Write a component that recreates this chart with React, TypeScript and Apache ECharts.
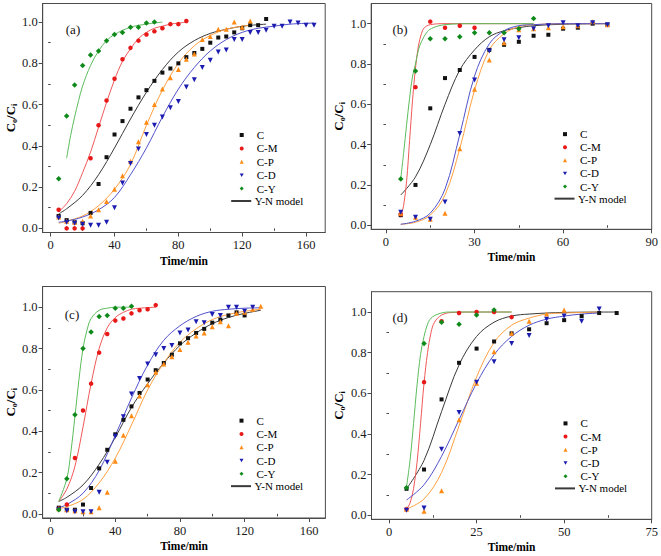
import React, { useEffect, useRef } from "react";
import * as echarts from "echarts";

const FONT = "'Liberation Serif', 'Times New Roman', serif";
const SERIES_NAMES = ["C", "C-M", "C-P", "C-D", "C-Y"];
const MODEL_NAME = "Y-N model";
const PANEL_LABELS = ["(a)", "(b)", "(c)", "(d)"];

// ---------- Panel (a) ----------
const timesA = [5, 10, 15, 20, 25, 30, 35, 40, 45, 50, 55, 60, 65, 70, 75, 80, 85, 90, 95, 100, 105, 110, 115, 120, 125, 130, 135, 140, 145, 150, 155, 160, 165];
const aC = [0.06, 0.04, 0.03, 0.025, 0.075, 0.215, 0.345, 0.455, 0.52, 0.58, 0.635, 0.67, 0.715, 0.755, 0.775, 0.8, 0.83, 0.85, 0.87, 0.9, 0.925, 0.93, 0.95, 0.97, 0.985, 0.985, 1.015];
const aCM = [0.09, 0.0, 0.0, 0.0, 0.34, 0.5, 0.62, 0.725, 0.82, 0.875, 0.91, 0.94, 0.955, 0.97, 0.99, 0.99, 1.005];
const aCP = [0.055, 0.035, 0.03, 0.035, 0.06, 0.09, 0.13, 0.19, 0.255, 0.325, 0.42, 0.515, 0.6, 0.675, 0.73, 0.77, 0.82, 0.845, 0.915, 0.93, 0.965, 0.965, 1.0, 0.975, 1.005];
const aCD = [0.05, 0.03, 0.025, 0.02, 0.015, 0.015, 0.03, 0.1, 0.22, 0.315, 0.385, 0.455, 0.5, 0.54, 0.585, 0.615, 0.685, 0.72, 0.78, 0.815, 0.855, 0.865, 0.915, 0.915, 0.95, 0.95, 0.96, 0.98, 0.98, 1.0, 0.995, 0.985, 0.985];
const aCY = [0.24, 0.545, 0.695, 0.79, 0.84, 0.86, 0.91, 0.94, 0.95, 0.975, 0.975, 0.995, 1.0];
const mA_C_t = [5, 10, 20, 30, 40, 50, 60, 70, 80, 90, 100, 110, 120, 135];
const mA_C_v = [0.07, 0.095, 0.16, 0.26, 0.39, 0.53, 0.66, 0.77, 0.855, 0.91, 0.945, 0.965, 0.98, 0.99];
const mA_CM_t = [5, 10, 15, 20, 25, 30, 35, 40, 45, 50, 55, 60, 65, 70, 75, 80, 85];
const mA_CM_v = [0.08, 0.12, 0.18, 0.27, 0.37, 0.49, 0.61, 0.72, 0.81, 0.87, 0.92, 0.95, 0.97, 0.98, 0.99, 0.995, 1.0];
const mA_CP_t = [5, 10, 20, 30, 40, 50, 60, 70, 80, 90, 100, 110, 120, 125];
const mA_CP_v = [0.025, 0.035, 0.06, 0.11, 0.19, 0.31, 0.5, 0.67, 0.8, 0.885, 0.935, 0.965, 0.98, 0.985];
const mA_CD_t = [5, 10, 20, 30, 40, 50, 60, 70, 80, 90, 100, 110, 120, 130, 140, 150, 165];
const mA_CD_v = [0.03, 0.035, 0.055, 0.09, 0.15, 0.26, 0.39, 0.54, 0.675, 0.78, 0.86, 0.915, 0.95, 0.97, 0.98, 0.99, 0.995];
const mA_CY_t = [10, 12.5, 15, 17.5, 20, 25, 30, 35, 40, 50, 60, 70];
const mA_CY_v = [0.34, 0.45, 0.54, 0.62, 0.69, 0.79, 0.86, 0.91, 0.94, 0.975, 0.99, 1.0];

// ---------- Panel (b) ----------
const timesB = [5, 10, 15, 20, 25, 30, 35, 40, 45, 50, 55, 60, 65, 70, 75];
const bC = [0.05, 0.2, 0.58, 0.73, 0.77, 0.835, 0.87, 0.895, 0.91, 0.94, 0.945, 0.975, 0.98, 1.0, 0.995];
const bCM = [0.055, 0.685, 1.01, 0.98, 0.99, 0.98];
const bCP = [0.06, 0.04, 0.03, 0.06, 0.38, 0.675, 0.82, 0.905, 0.97, 0.975, 0.98, 0.985, 0.99, 1.01, 0.995];
const bCD = [0.065, 0.04, 0.03, 0.115, 0.455, 0.72, 0.865, 0.92, 0.93, 0.975, 0.99, 1.005, 0.99, 1.005, 0.995];
const bCY = [0.23, 0.765, 0.925, 0.925, 0.935, 0.955, 0.955, 0.955, 0.975, 1.025];
const mB_C_t = [5, 10, 15, 20, 25, 30, 35, 40, 45, 50, 60, 75];
const mB_C_v = [0.15, 0.24, 0.4, 0.6, 0.77, 0.87, 0.935, 0.965, 0.98, 0.99, 0.997, 1.0];
const mB_CM_t = [5, 6, 7, 8, 9, 10, 11, 12, 13, 15, 20, 30, 50];
const mB_CM_v = [0.04, 0.1, 0.22, 0.42, 0.62, 0.78, 0.89, 0.95, 0.98, 0.995, 1.0, 1.0, 1.0];
const mB_CP_t = [5, 10, 15, 20, 25, 30, 35, 40, 45, 50, 60, 75];
const mB_CP_v = [0.005, 0.015, 0.05, 0.15, 0.38, 0.67, 0.87, 0.95, 0.985, 0.995, 1.0, 1.0];
const mB_CD_t = [5, 10, 15, 20, 25, 30, 35, 40, 45, 50, 60, 75];
const mB_CD_v = [0.005, 0.02, 0.06, 0.18, 0.45, 0.74, 0.9, 0.965, 0.99, 0.995, 1.0, 1.0];
const mB_CY_t = [5, 6, 7, 8, 9, 10, 11, 12, 14, 16, 20, 30, 50];
const mB_CY_v = [0.23, 0.36, 0.5, 0.63, 0.74, 0.8, 0.87, 0.91, 0.96, 0.98, 0.995, 1.0, 1.0];

// ---------- Panel (c) ----------
const timesC = [5, 10, 15, 20, 25, 30, 35, 40, 45, 50, 55, 60, 65, 70, 75, 80, 85, 90, 95, 100, 105, 110, 115, 120, 125, 130];
const cC = [0.03, 0.02, 0.02, 0.045, 0.125, 0.22, 0.31, 0.385, 0.455, 0.52, 0.585, 0.65, 0.695, 0.73, 0.77, 0.825, 0.85, 0.875, 0.895, 0.925, 0.94, 0.96, 0.975, 0.96];
const cCM = [0.025, 0.045, 0.27, 0.5, 0.63, 0.78, 0.87, 0.935, 0.945, 0.97, 0.985, 0.99, 1.01];
const cCP = [0.025, 0.02, 0.015, 0.01, 0.01, 0.03, 0.105, 0.255, 0.38, 0.475, 0.57, 0.625, 0.685, 0.725, 0.76, 0.795, 0.83, 0.86, 0.875, 0.905, 0.93, 0.91, 0.97, 0.975, 0.99, 1.005];
const cCD = [0.02, 0.015, 0.01, 0.01, 0.01, 0.105, 0.25, 0.375, 0.47, 0.58, 0.655, 0.725, 0.77, 0.8, 0.815, 0.875, 0.89, 0.93, 0.925, 0.965, 0.96, 1.0, 1.0, 0.98, 1.0];
const cCY = [0.02, 0.17, 0.48, 0.8, 0.88, 0.955, 0.96, 0.995, 0.995, 1.005];
const mC_C_t = [5, 10, 20, 30, 40, 50, 60, 70, 80, 90, 100, 110, 120, 130];
const mC_C_v = [0.06, 0.08, 0.14, 0.24, 0.37, 0.515, 0.63, 0.73, 0.815, 0.875, 0.92, 0.95, 0.97, 0.985];
const mC_CM_t = [5, 10, 15, 20, 25, 30, 35, 40, 45, 50, 55, 65];
const mC_CM_v = [0.06, 0.12, 0.23, 0.42, 0.63, 0.8, 0.9, 0.95, 0.975, 0.99, 0.995, 1.0];
const mC_CP_t = [5, 10, 20, 30, 40, 50, 60, 70, 80, 90, 100, 110, 120, 130];
const mC_CP_v = [0.025, 0.035, 0.07, 0.15, 0.27, 0.43, 0.6, 0.73, 0.83, 0.895, 0.94, 0.965, 0.98, 0.99];
const mC_CD_t = [5, 10, 20, 30, 40, 50, 60, 70, 80, 90, 100, 110, 120, 130];
const mC_CD_v = [0.03, 0.045, 0.1, 0.21, 0.38, 0.56, 0.72, 0.84, 0.91, 0.955, 0.98, 0.99, 0.995, 0.997];
const mC_CY_t = [5, 10, 12.5, 15, 17.5, 20, 22.5, 25, 30, 35, 40, 50];
const mC_CY_v = [0.06, 0.17, 0.3, 0.47, 0.65, 0.8, 0.89, 0.945, 0.985, 0.995, 1.0, 1.0];

// ---------- Panel (d) ----------
const timesD = [5, 10, 15, 20, 25, 30, 35, 40, 45, 50, 55, 60, 65];
const dC = [0.13, 0.225, 0.57, 0.75, 0.82, 0.855, 0.895, 0.915, 0.945, 0.96, 0.98, 0.995, 0.995];
const dCM = [0.03, 0.655, 0.955, 0.995, 1.0, 1.0, 0.975];
const dCP = [0.03, 0.02, 0.12, 0.47, 0.65, 0.805, 0.895, 0.955, 0.99, 1.01];
const dCD = [0.025, 0.035, 0.325, 0.505, 0.655, 0.755, 0.845, 0.885, 0.965, 0.98, 0.955, 1.015];
const dCY = [0.135, 0.845, 0.95, 0.94, 0.985, 1.01];
const mD_C_t = [5, 10, 15, 20, 25, 30, 35, 40, 50, 65];
const mD_C_v = [0.13, 0.27, 0.51, 0.74, 0.88, 0.95, 0.98, 0.99, 0.998, 1.0];
const mD_CM_t = [5, 6, 7, 8, 9, 10, 11, 12, 13, 15, 18, 25, 35];
const mD_CM_v = [0.03, 0.06, 0.13, 0.26, 0.45, 0.65, 0.8, 0.9, 0.95, 0.985, 0.998, 1.0, 1.0];
const mD_CP_t = [5, 10, 15, 20, 25, 30, 35, 40, 45, 50, 60];
const mD_CP_v = [0.03, 0.08, 0.21, 0.44, 0.68, 0.85, 0.935, 0.97, 0.99, 0.995, 1.0];
const mD_CD_t = [5, 10, 15, 20, 25, 30, 35, 40, 45, 50, 55, 60];
const mD_CD_v = [0.075, 0.15, 0.29, 0.47, 0.65, 0.79, 0.88, 0.935, 0.965, 0.98, 0.99, 0.995];
const mD_CY_t = [5, 6, 7, 8, 9, 10, 11, 12, 14, 17, 25, 35];
const mD_CY_v = [0.14, 0.27, 0.45, 0.64, 0.79, 0.88, 0.94, 0.97, 0.99, 1.0, 1.0, 1.0];

// ---------- Axis ticks ----------
const xTicksA = [0, 40, 80, 120, 160];
const xMinorA = [20, 60, 100, 140];
const xTicksB = [0, 30, 60, 90];
const xMinorB = [15, 45, 75];
const xTicksC = [0, 40, 80, 120, 160];
const xMinorC = [20, 60, 100, 140];
const xTicksD = [0, 25, 50, 75];
const xMinorD = [12.5, 37.5, 62.5];
const yTicks = [0, 0.2, 0.4, 0.6, 0.8, 1.0];
const yMinor = [0.1, 0.3, 0.5, 0.7, 0.9];

const MARK_COLORS = ["#111111", "#e81818", "#ff8a14", "#1c1cb0", "#0f8a1a"];
const LINE_COLORS = ["#3a3a3a", "#f05858", "#ffa040", "#5252cc", "#5cbc5c"];
const SYMBOLS = ["rect", "circle", "triangle", "triangle", "diamond"];
const SYMBOL_SIZES = [4, 4.5, 5, 5, 5.5];
const SYMBOL_ROT = [0, 0, 0, 180, 0];
const LEGEND_ICONS = ["rect", "circle", "triangle", "path://M0,0L10,0L5,9Z", "diamond"];

const pairs = (t: number[], v: number[]) => v.map((y, i) => [t[i], y]);

const panels = [
  {
    grid: { left: 42.7, top: 3.5, width: 282.5, height: 229 },
    xMin: -5, xMax: 172, yMax: 1.09, xTicks: xTicksA, xMinor: xMinorA, xNameGap: 22.7,
    points: [pairs(timesA, aC), pairs(timesA, aCM), pairs(timesA, aCP), pairs(timesA, aCD), pairs(timesA, aCY)],
    models: [pairs(mA_C_t, mA_C_v), pairs(mA_CM_t, mA_CM_v), pairs(mA_CP_t, mA_CP_v), pairs(mA_CD_t, mA_CD_v), pairs(mA_CY_t, mA_CY_v)],
    legend: { cx: 241.7, top: 128.3, pitch: 13.4 },
    label: { x: 73, y: 29 },
  },
  {
    grid: { left: 371.2, top: 3.5, width: 280.5, height: 225.8 },
    xMin: -5, xMax: 90, yMax: 1.1, xTicks: xTicksB, xMinor: xMinorB, xNameGap: 21.4,
    points: [pairs(timesB, bC), pairs(timesB, bCM), pairs(timesB, bCP), pairs(timesB, bCD), pairs(timesB, bCY)],
    models: [pairs(mB_C_t, mB_C_v), pairs(mB_CM_t, mB_CM_v), pairs(mB_CP_t, mB_CP_v), pairs(mB_CD_t, mB_CD_v), pairs(mB_CY_t, mB_CY_v)],
    legend: { cx: 565, top: 127.6, pitch: 13.1 },
    label: { x: 400, y: 29 },
  },
  {
    grid: { left: 42.6, top: 286.5, width: 282.8, height: 231.5 },
    xMin: -5, xMax: 170, yMax: 1.1, xTicks: xTicksC, xMinor: xMinorC, xNameGap: 22.4,
    points: [pairs(timesC, cC), pairs(timesC, cCM), pairs(timesC, cCP), pairs(timesC, cCD), pairs(timesC, cCY)],
    models: [pairs(mC_C_t, mC_C_v), pairs(mC_CM_t, mC_CM_v), pairs(mC_CP_t, mC_CP_v), pairs(mC_CD_t, mC_CD_v), pairs(mC_CY_t, mC_CY_v)],
    legend: { cx: 241.5, top: 414, pitch: 13.3 },
    label: { x: 72, y: 314 },
  },
  {
    grid: { left: 371.5, top: 291.7, width: 280.2, height: 227.6 },
    xMin: -5, xMax: 75, yMax: 1.1, xTicks: xTicksD, xMinor: xMinorD, xNameGap: 21.4,
    points: [pairs(timesD, dC), pairs(timesD, dCM), pairs(timesD, dCP), pairs(timesD, dCD), pairs(timesD, dCY)],
    models: [pairs(mD_C_t, mD_C_v), pairs(mD_CM_t, mD_CM_v), pairs(mD_CP_t, mD_CP_v), pairs(mD_CD_t, mD_CD_v), pairs(mD_CY_t, mD_CY_v)],
    legend: { cx: 565.5, top: 416.8, pitch: 13.2 },
    label: { x: 400, y: 317 },
  },
];

const AXIS_COLOR = "#4a4a4a";
const LEGEND_TEXT = { fontSize: 11, fontFamily: FONT, color: "#000" };

function buildOption() {
  const grid: any[] = [];
  const xAxis: any[] = [];
  const yAxis: any[] = [];
  const legend: any[] = [];
  const series: any[] = [];
  const graphic: any[] = [];

  panels.forEach((p, i) => {
    grid.push({ ...p.grid, show: true, borderColor: AXIS_COLOR, borderWidth: 1, backgroundColor: "transparent" });
    xAxis.push({
      type: "value", gridIndex: i, min: p.xMin, max: p.xMax, position: "bottom",
      axisLine: { show: true, onZero: false, lineStyle: { color: AXIS_COLOR, width: 1 } },
      axisTick: { show: true, length: 4, customValues: p.xTicks, lineStyle: { color: AXIS_COLOR } },
      axisLabel: { customValues: p.xTicks, margin: 6, fontSize: 12.5, fontFamily: FONT, color: "#1a1a1a", formatter: (v: number) => String(v) },
      splitLine: { show: false },
      name: "Time/min", nameLocation: "middle", nameGap: p.xNameGap,
      nameTextStyle: { fontWeight: "bold", fontSize: 11.5, fontFamily: FONT, color: "#000" },
    });
    yAxis.push({
      type: "value", gridIndex: i, min: -0.02, max: p.yMax, position: "left",
      axisLine: { show: true, onZero: false, lineStyle: { color: AXIS_COLOR, width: 1 } },
      axisTick: { show: true, length: 4, customValues: yTicks, lineStyle: { color: AXIS_COLOR } },
      axisLabel: { customValues: yTicks, margin: 5, fontSize: 12.5, fontFamily: FONT, color: "#1a1a1a", formatter: (v: number) => v.toFixed(1) },
      splitLine: { show: false },
      name: "{m|C}{s|o}{m|/C}{s|i}", nameLocation: "middle", nameGap: 22,
      nameTextStyle: {
        rich: {
          m: { fontSize: 13, fontWeight: "bold", fontFamily: FONT, color: "#000" },
          s: { fontSize: 8, fontWeight: "bold", fontFamily: FONT, color: "#000", padding: [8, 0, 0, 0] },
        },
      },
    });
    // scatter legend (square icon boxes)
    legend.push({
      orient: "vertical", left: p.legend.cx - 2, top: p.legend.top, padding: 0, itemGap: 0,
      itemWidth: 4, itemHeight: 4, selectedMode: false,
      data: SERIES_NAMES.map((n, j) => ({ name: n, icon: LEGEND_ICONS[j], itemStyle: { color: MARK_COLORS[j] } })),
      textStyle: { ...LEGEND_TEXT, lineHeight: p.legend.pitch, padding: [0, 0, 0, 8] },
    });
    // model legend (line icon)
    legend.push({
      orient: "vertical", left: p.legend.cx - 11.5, top: p.legend.top + 5 * p.legend.pitch - 1, padding: 0,
      itemWidth: 20, itemHeight: 5, selectedMode: false,
      data: [{ name: MODEL_NAME, itemStyle: { opacity: 0 } }],
      textStyle: { ...LEGEND_TEXT, lineHeight: p.legend.pitch, padding: [0, 0, 0, -1.5] },
    });
    graphic.push({
      type: "text", x: p.label.x, y: p.label.y,
      style: { text: PANEL_LABELS[i], fontSize: 13, fontFamily: FONT, fill: "#111", align: "center", verticalAlign: "middle" },
    });
    p.models.forEach((d, j) => {
      series.push({
        type: "line", name: j === 0 ? MODEL_NAME : "model " + SERIES_NAMES[j] + " " + PANEL_LABELS[i],
        xAxisIndex: i, yAxisIndex: i, data: d, smooth: 0.35,
        symbol: "none", showSymbol: false, silent: true, z: 2,
        lineStyle: { color: LINE_COLORS[j], width: 1 }, itemStyle: { color: LINE_COLORS[j] },
      });
    });
    p.points.forEach((d, j) => {
      series.push({
        type: "scatter", name: SERIES_NAMES[j], xAxisIndex: i, yAxisIndex: i, data: d,
        symbol: SYMBOLS[j], symbolSize: SYMBOL_SIZES[j], symbolRotate: SYMBOL_ROT[j], z: 3,
        itemStyle: { color: MARK_COLORS[j], opacity: 1 },
      });
    });
  });

  // minor-tick axes
  panels.forEach((p, i) => {
    xAxis.push({
      type: "value", gridIndex: i, min: p.xMin, max: p.xMax, position: "bottom",
      axisLine: { show: false }, axisLabel: { show: false }, splitLine: { show: false },
      axisTick: { show: true, length: 2.5, customValues: p.xMinor, lineStyle: { color: AXIS_COLOR } },
    });
    yAxis.push({
      type: "value", gridIndex: i, min: -0.02, max: p.yMax, position: "left",
      axisLine: { show: false }, axisLabel: { show: false }, splitLine: { show: false },
      axisTick: { show: true, length: 2.5, customValues: yMinor, lineStyle: { color: AXIS_COLOR } },
    });
  });

  return { animation: false, backgroundColor: "#ffffff", grid, xAxis, yAxis, legend, series, graphic };
}

export default function App() {
  const ref = useRef<HTMLDivElement>(null);
  useEffect(() => {
    document.body.style.margin = "0";
    if (!ref.current) return;
    const chart = echarts.init(ref.current, undefined, { renderer: "svg" });
    chart.setOption(buildOption() as any);
    return () => chart.dispose();
  }, []);
  return <div ref={ref} style={{ position: "absolute", left: 0, top: 0, width: 661, height: 556 }} />;
}
